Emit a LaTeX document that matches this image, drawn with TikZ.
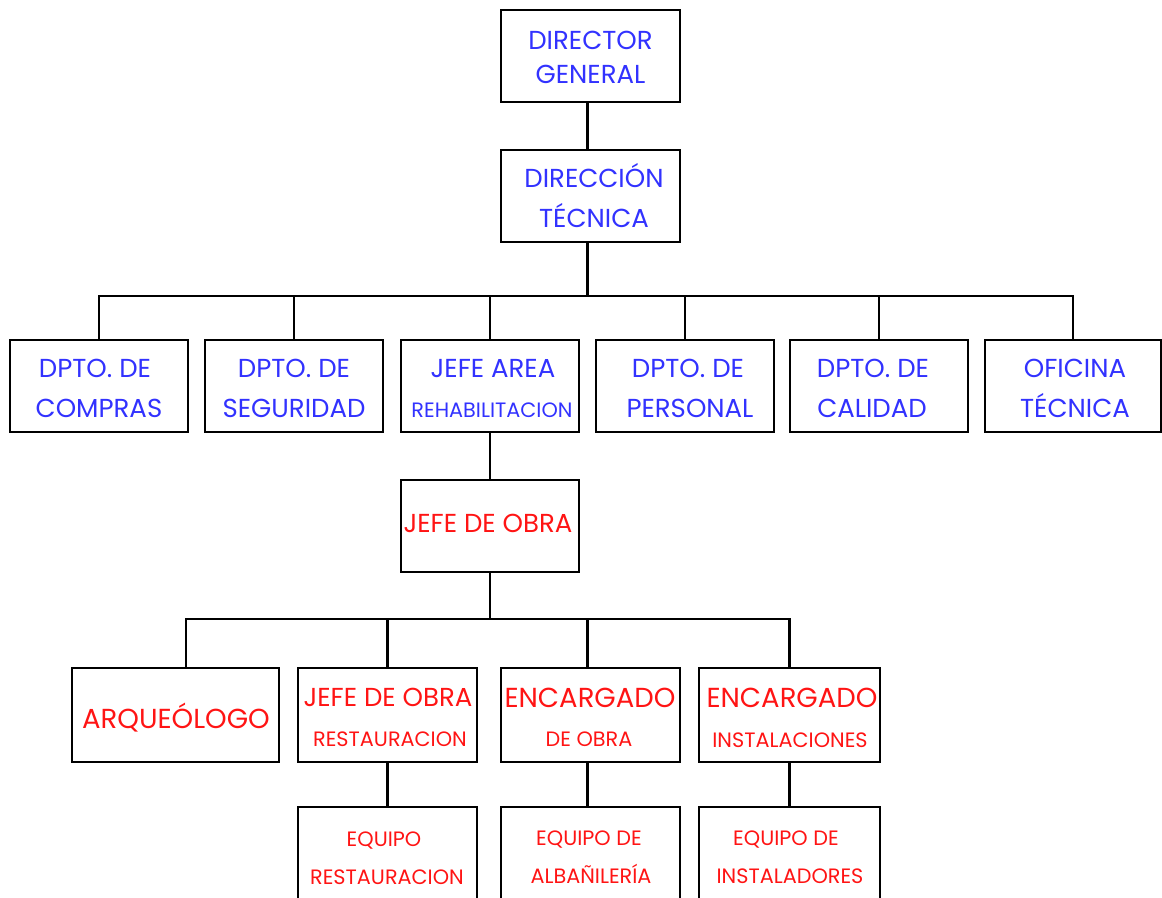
\documentclass[tikz,border=0pt]{standalone}
\usepackage{fontspec}
\setmainfont{Poppins}
\usetikzlibrary{calc}
\definecolor{tblue}{RGB}{50,50,255}
\definecolor{tred}{RGB}{255,20,20}
\tikzset{
  box/.style={draw=black,line width=2.2pt,inner sep=0pt},
  conn/.style={draw=black,line width=2.2pt},
  big/.style={inner sep=0pt,anchor=base,font=\fontsize{26}{30}\selectfont},
  wide/.style={inner sep=0pt,anchor=base,font=\fontsize{27.5}{30}\selectfont},
  small/.style={inner sep=0pt,anchor=base,font=\fontsize{20.8}{24}\selectfont},
  bl/.style={text=tblue},
  rd/.style={text=tred}
}
\begin{document}
\begin{tikzpicture}[x=1pt,y=-1pt]
\useasboundingbox (0,0) rectangle (1162,897);
\clip (0,0) rectangle (1162,897);
% boxes
\node[box,minimum width=179pt,minimum height=92pt] (dg) at (590.5,56) {};
\node[box,minimum width=179pt,minimum height=92pt] (dt) at (590.5,196) {};
\node[box,minimum width=178pt,minimum height=92pt] (compras) at (99,386) {};
\node[box,minimum width=178pt,minimum height=92pt] (seg) at (294,386) {};
\node[box,minimum width=178pt,minimum height=92pt] (jarea) at (490,386) {};
\node[box,minimum width=178pt,minimum height=92pt] (pers) at (685,386) {};
\node[box,minimum width=178pt,minimum height=92pt] (cal) at (879,386) {};
\node[box,minimum width=176pt,minimum height=92pt] (ofi) at (1073,386) {};
\node[box,minimum width=178pt,minimum height=92pt] (jo) at (490,526) {};
\node[box,minimum width=207pt,minimum height=94pt] (arq) at (175.5,715) {};
\node[box,minimum width=179pt,minimum height=94pt] (jor) at (387.5,715) {};
\node[box,minimum width=179pt,minimum height=94pt] (enc1) at (590.5,715) {};
\node[box,minimum width=181pt,minimum height=94pt] (enc2) at (789.5,715) {};
\node[box,minimum width=179pt,minimum height=94pt] (eq1) at (387.5,854) {};
\node[box,minimum width=179pt,minimum height=94pt] (eq2) at (590.5,854) {};
\node[box,minimum width=181pt,minimum height=94pt] (eq3) at (789.5,854) {};
% connectors
\coordinate (dgbot) at ($(dg.south)+(-3,0)$);
\coordinate (bus1) at (587.5,296);
\coordinate (bus2) at (490,619);
\coordinate (arqtop) at (186,668);
\coordinate (enc1top) at ($(enc1.north)+(-3,0)$);
\coordinate (enc1bot) at ($(enc1.south)+(-3,0)$);
\draw[conn] (dgbot) -- (dgbot |- dt.north);
\draw[conn] (bus1 |- dt.south) -- (bus1);
\draw[conn] (compras.north) -- (compras.north |- bus1) -- (ofi.north |- bus1) -- (ofi.north);
\draw[conn] (seg.north) -- (seg.north |- bus1);
\draw[conn] (jarea.north) -- (jarea.north |- bus1);
\draw[conn] (pers.north) -- (pers.north |- bus1);
\draw[conn] (cal.north) -- (cal.north |- bus1);
\draw[conn] (jarea.south) -- (jo.north);
\draw[conn] (jo.south) -- (bus2);
\draw[conn] (arqtop) -- (arqtop |- bus2) -- (enc2.north |- bus2) -- (enc2.north);
\draw[conn] (jor.north) -- (jor.north |- bus2);
\draw[conn] (enc1top) -- (enc1top |- bus2);
\draw[conn] (jor.south) -- (eq1.north);
\draw[conn] (enc1bot) -- (enc1bot |- eq2.north);
\draw[conn] (enc2.south) -- (eq3.north);
% texts
\node[big,bl] (t1) at (590.5,49) {DIRECTOR};
\node[big,bl] (t2) at (590.5,83) {GENERAL};
\node[big,bl] (t3) at (594,187) {DIRECCIÓN};
\node[big,bl] (t4) at (594,227) {TÉCNICA};
\node[big,bl] (t5) at (95,377) {DPTO. DE};
\node[big,bl] (t6) at (99,417) {COMPRAS};
\node[big,bl] (t7) at (294,377) {DPTO. DE};
\node[big,bl] (t8) at (294,417) {SEGURIDAD};
\node[big,bl] (t9) at (493,377) {JEFE AREA};
\node[small,bl] (t10) at (492,417) {REHABILITACION};
\node[big,bl] (t11) at (688,377) {DPTO. DE};
\node[big,bl] (t12) at (690,417) {PERSONAL};
\node[big,bl] (t13) at (873,377) {DPTO. DE};
\node[big,bl] (t14) at (872,417) {CALIDAD};
\node[big,bl] (t15) at (1075,377) {OFICINA};
\node[big,bl] (t16) at (1075,417) {TÉCNICA};
\node[big,rd] (t17) at (488,532) {JEFE DE OBRA};
\node[wide,rd] (t18) at (176,728) {ARQUEÓLOGO};
\node[big,rd] (t19) at (388,706) {JEFE DE OBRA};
\node[small,rd] (t20) at (390,746) {RESTAURACION};
\node[wide,rd] (t21) at (590,707) {ENCARGADO};
\node[small,rd] (t22) at (589,746) {DE OBRA};
\node[wide,rd] (t23) at (792,707) {ENCARGADO};
\node[small,rd] (t24) at (790,747) {INSTALACIONES};
\node[small,rd] (t25) at (384,846) {EQUIPO};
\node[small,rd] (t26) at (387,884) {RESTAURACION};
\node[small,rd] (t27) at (589,845) {EQUIPO DE};
\node[small,rd] (t28) at (591,883) {ALBAÑILERÍA};
\node[small,rd] (t29) at (786,845) {EQUIPO DE};
\node[small,rd] (t30) at (790,883) {INSTALADORES};
\end{tikzpicture}
\end{document}
